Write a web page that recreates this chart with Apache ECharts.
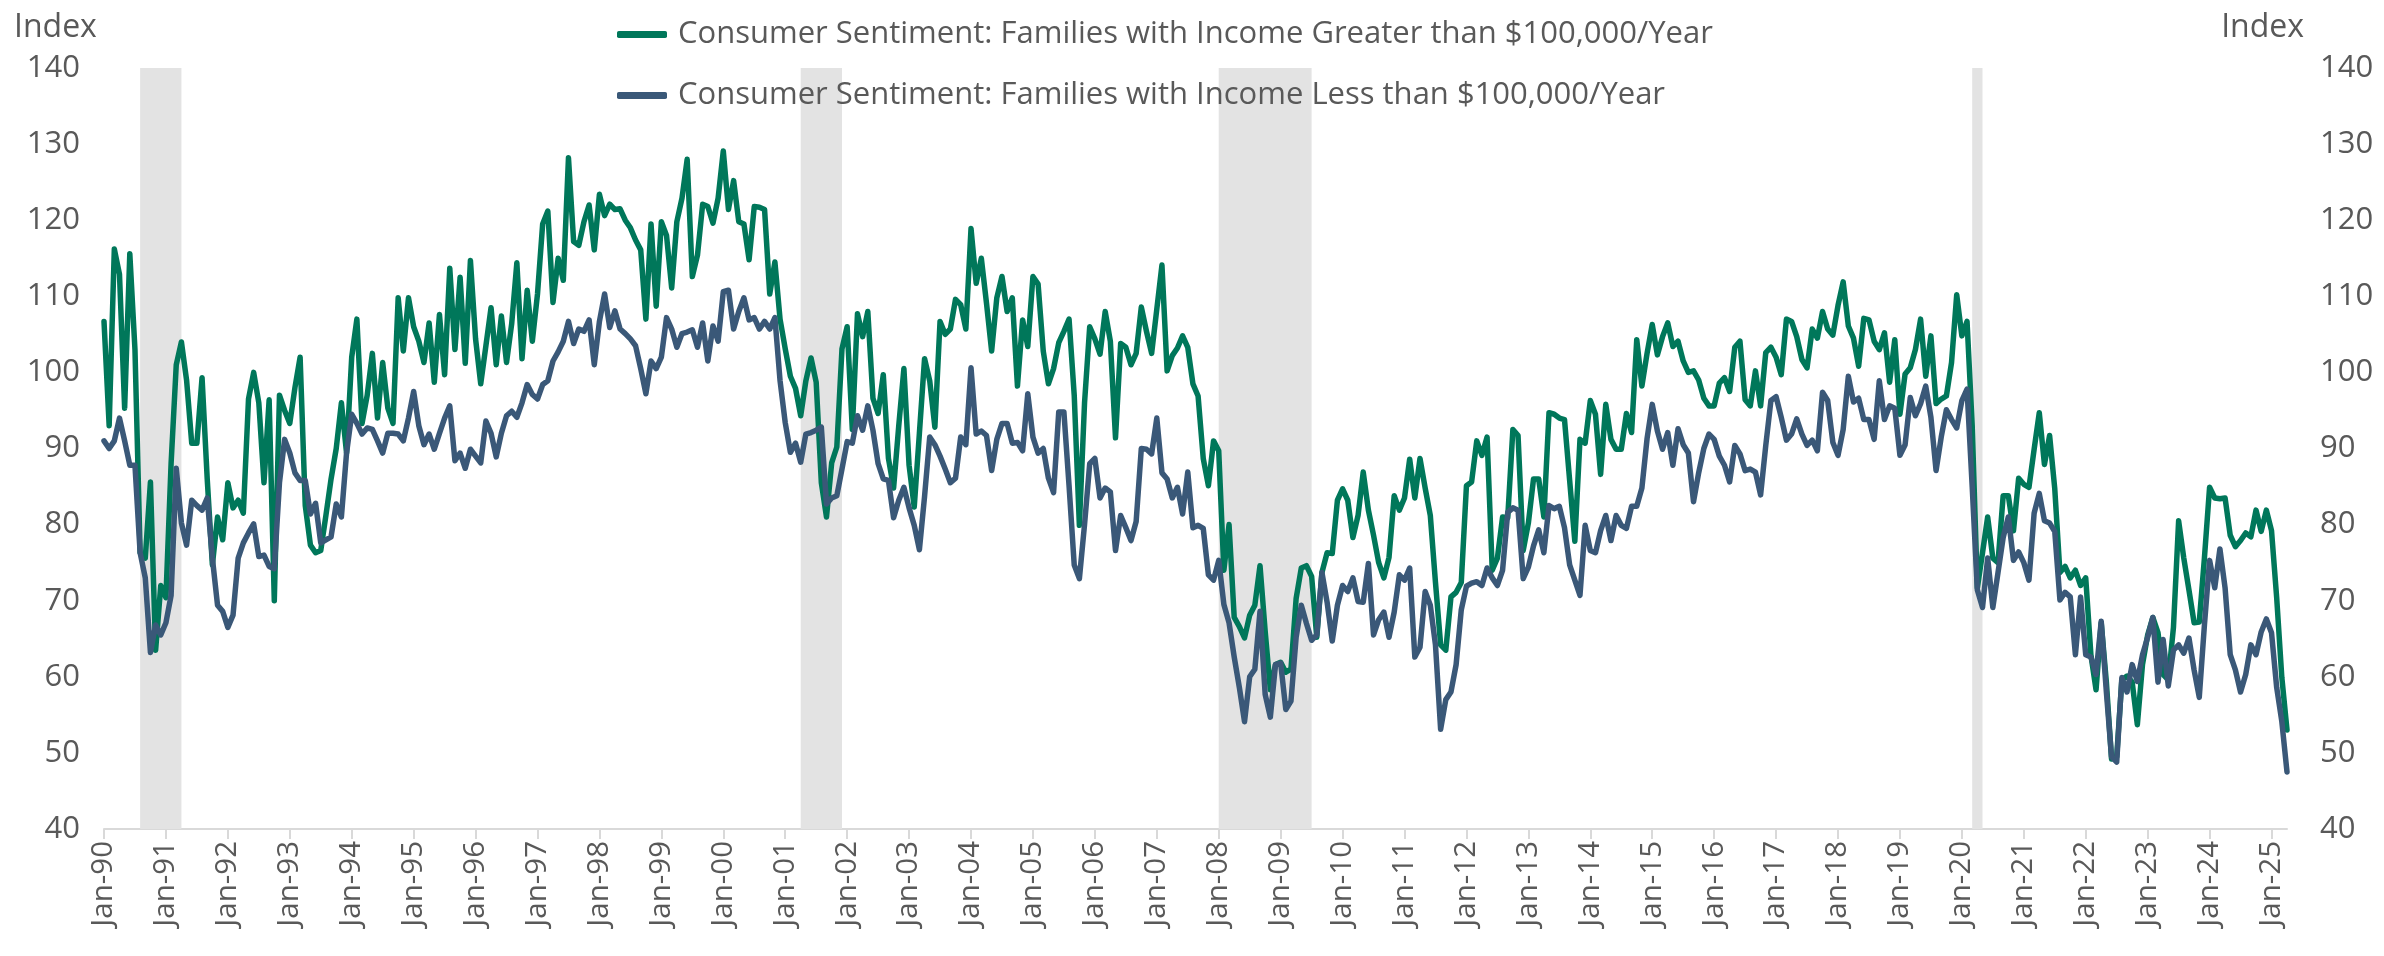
<!DOCTYPE html>
<html>
<head>
<meta charset="utf-8">
<script src="https://cdn.jsdelivr.net/npm/echarts@6/dist/echarts.min.js"></script>
<style>
html,body{margin:0;padding:0;background:#fff;}
#chart{width:2384px;height:956px;}
</style>
</head>
<body>
<div id="chart"></div>
<script>
// Monthly values, Jan-1990 .. Apr-2025 (one row per year)
const greaterThan100k = [
106.7, 93.0, 116.2, 112.9, 95.3, 115.6, 103.0, 76.3, 75.6, 85.6, 63.5, 72.0,
70.4, 88.0, 101.0, 104.0, 99.0, 90.7, 90.7, 99.3, 86.0, 74.7, 81.0, 78.0,
85.5, 82.2, 83.2, 81.5, 96.5, 100.0, 96.0, 85.5, 96.4, 70.0, 97.0, 95.0,
93.3, 98.0, 102.0, 82.5, 77.3, 76.3, 76.6, 81.2, 86.0, 90.0, 96.0, 89.4,
102.0, 107.0, 93.3, 97.0, 102.5, 94.0, 101.3, 95.3, 93.3, 109.8, 102.8, 109.8,
106.0, 104.1, 101.3, 106.5, 98.7, 107.6, 99.7, 113.7, 103.0, 112.5, 101.2, 114.7,
104.4, 98.5, 103.5, 108.5, 101.0, 107.4, 101.3, 106.4, 114.4, 101.8, 110.8, 104.1,
110.3, 119.5, 121.2, 109.2, 115.0, 112.1, 128.2, 117.2, 116.7, 119.8, 122.0, 116.1,
123.4, 120.6, 122.1, 121.4, 121.5, 120.0, 119.0, 117.4, 116.1, 107.0, 119.5, 108.7,
119.8, 118.0, 111.1, 119.8, 122.9, 128.0, 112.6, 115.4, 122.1, 121.8, 119.6, 122.9,
129.1, 121.4, 125.2, 119.8, 119.5, 114.8, 121.8, 121.7, 121.4, 110.3, 114.5, 107.0,
103.1, 99.5, 97.9, 94.3, 98.9, 101.9, 98.7, 85.5, 81.0, 88.1, 90.2, 103.1,
106.0, 92.5, 107.7, 104.7, 108.0, 96.6, 94.6, 99.7, 88.7, 84.8, 93.0, 100.5,
87.8, 82.3, 92.0, 101.8, 98.9, 92.8, 106.7, 105.0, 105.7, 109.6, 108.9, 105.7,
118.9, 111.7, 115.0, 109.1, 102.8, 109.8, 112.6, 108.0, 109.8, 98.2, 106.9, 103.4,
112.6, 111.6, 102.8, 98.5, 100.5, 103.9, 105.4, 107.0, 97.0, 79.9, 96.0, 106.0,
104.4, 102.4, 108.0, 104.1, 91.4, 103.8, 103.3, 101.0, 102.5, 108.6, 105.4, 102.5,
108.3, 114.1, 100.2, 102.2, 103.2, 104.8, 103.3, 98.5, 96.9, 88.7, 85.1, 91.0,
89.7, 74.0, 80.0, 67.8, 66.6, 65.1, 68.1, 69.4, 74.6, 66.0, 58.3, 61.6,
61.9, 60.6, 61.0, 70.3, 74.3, 74.6, 73.2, 65.2, 73.7, 76.3, 76.2, 83.2,
84.7, 83.2, 78.3, 81.2, 86.9, 81.9, 78.6, 75.0, 73.0, 75.7, 83.8, 81.9,
83.5, 88.6, 83.5, 88.7, 84.8, 81.2, 72.4, 64.2, 63.5, 70.5, 71.1, 72.4,
85.1, 85.6, 91.0, 89.1, 91.5, 74.0, 75.6, 81.0, 80.9, 92.5, 91.7, 76.6,
80.2, 86.0, 86.0, 81.0, 94.7, 94.5, 94.0, 93.8, 85.8, 77.8, 91.2, 90.7,
96.3, 94.5, 86.6, 95.8, 91.2, 89.9, 89.9, 94.6, 92.1, 104.3, 98.2, 102.5,
106.3, 102.3, 104.7, 106.5, 103.4, 104.1, 101.5, 100.0, 100.2, 99.0, 96.6, 95.6,
95.6, 98.6, 99.3, 97.5, 103.3, 104.1, 96.4, 95.6, 100.2, 95.6, 102.6, 103.3,
102.0, 99.7, 107.0, 106.7, 104.7, 101.7, 100.6, 105.7, 104.5, 108.0, 105.7, 104.9,
108.8, 111.9, 106.1, 104.5, 100.8, 107.1, 106.9, 104.1, 103.0, 105.2, 98.7, 104.3,
94.5, 99.8, 100.6, 103.0, 107.0, 99.5, 104.8, 95.9, 96.5, 96.9, 101.3, 110.2,
104.8, 106.7, 93.0, 71.7, 76.3, 81.0, 75.6, 75.0, 83.8, 83.8, 79.2, 86.1,
85.3, 84.9, 89.9, 94.7, 87.9, 91.7, 84.7, 73.7, 74.5, 73.0, 74.0, 72.0,
73.0, 62.9, 58.3, 67.1, 59.3, 49.2, 49.5, 59.6, 60.1, 59.3, 53.7, 61.6,
65.5, 67.8, 65.8, 60.3, 59.6, 66.5, 80.5, 75.6, 71.4, 67.1, 67.2, 75.6,
84.9, 83.5, 83.4, 83.5, 78.6, 77.1, 77.9, 78.9, 78.4, 81.9, 79.1, 81.9,
79.2, 70.4, 59.9, 53.0
];
const lessThan100k = [
91.0, 90.0, 91.0, 94.0, 91.0, 87.8, 87.8, 76.3, 73.0, 63.2, 66.8, 65.5,
67.1, 70.7, 87.4, 80.2, 77.3, 83.2, 82.5, 81.9, 83.5, 75.6, 69.4, 68.6,
66.5, 68.1, 75.6, 77.6, 78.9, 80.1, 75.8, 76.0, 74.5, 74.2, 85.5, 91.2,
89.4, 86.8, 85.8, 85.8, 81.4, 82.8, 77.6, 78.0, 78.4, 82.7, 81.0, 89.4,
94.5, 93.3, 91.9, 92.7, 92.5, 91.0, 89.4, 92.0, 92.0, 91.9, 91.0, 94.0,
97.5, 93.0, 90.5, 91.9, 89.9, 92.0, 94.0, 95.6, 88.4, 89.4, 87.4, 89.9,
89.0, 88.1, 93.6, 92.0, 88.9, 92.0, 94.3, 94.9, 94.1, 96.0, 98.4, 97.1,
96.5, 98.4, 98.9, 101.5, 102.7, 104.1, 106.7, 103.8, 105.7, 105.4, 106.9, 101.0,
106.7, 110.3, 105.9, 108.1, 105.7, 105.1, 104.4, 103.5, 100.5, 97.2, 101.5, 100.5,
102.0, 107.2, 105.7, 103.3, 105.1, 105.3, 105.6, 103.3, 106.5, 101.5, 106.1, 104.1,
110.6, 110.8, 105.7, 108.0, 109.8, 106.9, 107.2, 105.7, 106.7, 105.7, 107.2, 98.9,
93.4, 89.5, 90.7, 88.2, 91.9, 92.1, 92.4, 92.8, 82.7, 83.5, 83.8, 87.3,
90.9, 90.7, 94.3, 92.4, 95.6, 92.4, 88.0, 86.0, 85.8, 80.9, 83.2, 84.9,
82.2, 79.9, 76.7, 83.7, 91.5, 90.5, 89.0, 87.3, 85.5, 86.1, 91.5, 90.5,
100.6, 91.9, 92.3, 91.7, 87.1, 91.2, 93.3, 93.3, 90.7, 90.8, 89.7, 97.2,
91.5, 89.4, 90.0, 86.1, 84.2, 94.8, 94.8, 85.1, 74.7, 72.9, 80.0, 88.0,
88.7, 83.5, 84.8, 84.3, 76.6, 81.2, 79.6, 77.9, 80.4, 90.0, 89.9, 89.3,
94.0, 86.8, 86.0, 83.5, 84.9, 81.4, 86.9, 79.6, 79.9, 79.5, 73.4, 72.7,
75.3, 69.5, 67.1, 62.6, 58.6, 54.1, 60.0, 61.0, 68.6, 57.7, 54.7, 61.6,
61.8, 55.7, 56.8, 65.2, 69.4, 67.0, 64.8, 65.5, 73.7, 69.8, 64.7, 69.4,
72.0, 71.2, 73.0, 69.9, 69.8, 74.9, 65.5, 67.5, 68.5, 65.2, 68.5, 73.4,
72.7, 74.3, 62.6, 63.9, 71.2, 69.4, 64.2, 53.1, 57.0, 58.0, 61.6, 68.8,
71.9, 72.3, 72.5, 72.0, 74.3, 73.0, 72.0, 74.0, 81.6, 82.2, 81.9, 72.9,
74.4, 77.2, 79.3, 76.3, 82.5, 82.1, 82.4, 79.6, 74.7, 72.7, 70.7, 79.9,
76.6, 76.3, 79.2, 81.2, 77.9, 81.2, 79.9, 79.5, 82.4, 82.4, 84.8, 91.3,
95.8, 92.3, 89.9, 92.1, 87.8, 92.6, 90.5, 89.4, 83.0, 86.8, 90.0, 91.9,
91.2, 89.0, 87.8, 85.6, 90.4, 89.3, 87.1, 87.3, 86.9, 83.9, 90.4, 96.3,
96.8, 94.1, 91.1, 91.9, 93.9, 91.9, 90.4, 91.1, 89.7, 97.4, 96.3, 90.8,
89.1, 92.5, 99.5, 96.1, 96.6, 93.8, 93.8, 91.2, 98.9, 93.8, 95.6, 95.3,
89.1, 90.5, 96.7, 94.3, 95.9, 98.2, 94.1, 87.1, 91.5, 95.1, 93.8, 92.7,
96.3, 97.8, 85.0, 71.4, 69.1, 75.6, 69.1, 73.7, 78.3, 81.0, 75.3, 76.4,
75.0, 72.7, 81.5, 84.1, 80.5, 80.2, 79.1, 70.1, 71.1, 70.5, 62.9, 70.5,
62.9, 62.6, 60.3, 67.3, 58.0, 49.5, 48.8, 59.9, 58.0, 61.6, 59.4, 62.9,
65.2, 67.8, 59.3, 64.9, 58.8, 63.5, 64.2, 63.1, 65.1, 60.9, 57.3, 66.8,
75.3, 71.7, 76.8, 71.7, 62.9, 60.9, 58.0, 60.3, 64.2, 62.9, 65.9, 67.6,
65.8, 58.6, 54.1, 47.5
];
const monthNames = ['Jan','Feb','Mar','Apr','May','Jun','Jul','Aug','Sep','Oct','Nov','Dec'];
const startYear = 1990;
const categories = greaterThan100k.map((_, i) =>
  monthNames[i % 12] + '-' + String((startYear + Math.floor(i / 12)) % 100).padStart(2, '0'));
const recessions = [['Aug-90','Apr-91'], ['Apr-01','Dec-01'], ['Jan-08','Jul-09'], ['Mar-20','May-20']];
const seriesNames = [
  'Consumer Sentiment: Families with Income Greater than $100,000/Year',
  'Consumer Sentiment: Families with Income Less than $100,000/Year'
];
const yTicks = {min: 40, max: 140, interval: 10};

const FONT = '"Open Sans", "Noto Sans", sans-serif';
const GREY = '#595959';
const chart = echarts.init(document.getElementById('chart'), null, {renderer: 'canvas'});
const everyYear = (idx) => idx % 12 === 0;
const yAxisBase = {
  type: 'value', min: yTicks.min, max: yTicks.max, interval: yTicks.interval,
  splitLine: {show: false}, axisLine: {show: false}, axisTick: {show: false},
  axisLabel: {fontSize: 31, color: GREY, fontFamily: FONT}
};
chart.setOption({
  animation: false,
  backgroundColor: '#ffffff',
  grid: {left: 104, right: 97, top: 68, bottom: 127, containLabel: false},
  legend: {
    orient: 'vertical', left: 612, top: 14, itemWidth: 50, itemHeight: 7, itemGap: 30,
    icon: 'roundRect',
    textStyle: {fontSize: 31, color: GREY, fontFamily: FONT, padding: [0, 0, 0, 6]},
    data: seriesNames
  },
  graphic: [
    {type: 'text', left: 14, top: 12, style: {text: 'Index', fontSize: 32, fill: GREY, fontFamily: FONT}},
    {type: 'text', right: 80, top: 12, style: {text: 'Index', fontSize: 32, fill: GREY, fontFamily: FONT}}
  ],
  xAxis: {
    type: 'category', data: categories, boundaryGap: false,
    axisLine: {lineStyle: {color: '#d9d9d9', width: 2}},
    axisTick: {interval: everyYear, length: 10, lineStyle: {color: '#d9d9d9', width: 2}},
    axisLabel: {interval: everyYear, rotate: 90, margin: 12, fontSize: 29.5, color: GREY, fontFamily: FONT},
    splitLine: {show: false}
  },
  yAxis: [
    Object.assign({}, yAxisBase, {position: 'left', axisLabel: Object.assign({}, yAxisBase.axisLabel, {margin: 24})}),
    Object.assign({}, yAxisBase, {position: 'right', axisLabel: Object.assign({}, yAxisBase.axisLabel, {margin: 33})})
  ],
  series: [
    {
      name: seriesNames[0], type: 'line', data: greaterThan100k, yAxisIndex: 0,
      showSymbol: false, symbol: 'none', color: '#00775A',
      lineStyle: {width: 5.5, color: '#00775A', cap: 'round', join: 'round'},
      z: 3,
      markArea: {
        silent: true,
        itemStyle: {color: '#e3e3e3'},
        data: recessions.map(r => [{xAxis: r[0]}, {xAxis: r[1]}])
      }
    },
    {
      name: seriesNames[1], type: 'line', data: lessThan100k, yAxisIndex: 0,
      showSymbol: false, symbol: 'none', color: '#3A5878',
      lineStyle: {width: 5.5, color: '#3A5878', cap: 'round', join: 'round'},
      z: 4
    }
  ]
});
</script>
</body>
</html>
